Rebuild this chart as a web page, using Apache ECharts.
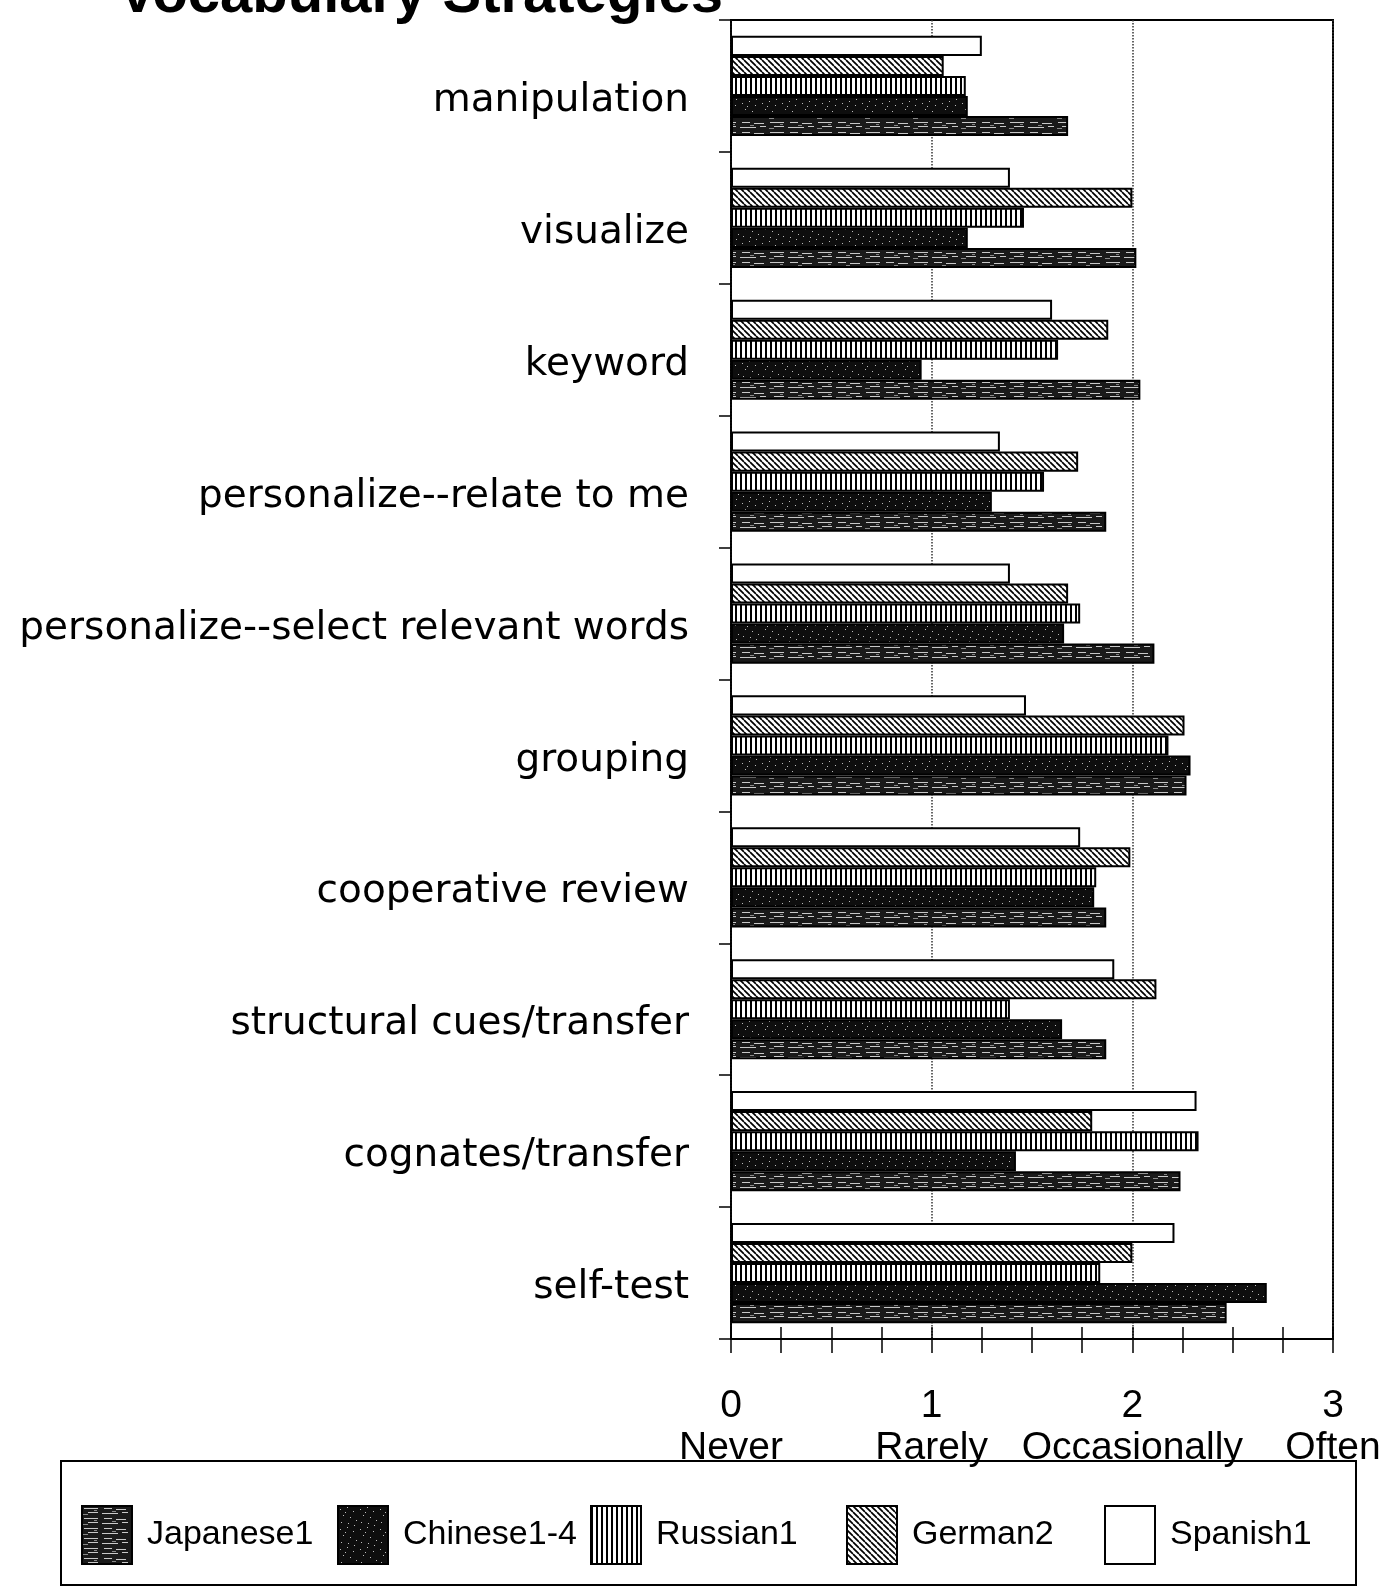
<!DOCTYPE html>
<html>
<head>
<meta charset="utf-8">
<title>Vocabulary Strategies</title>
<script src="https://cdn.jsdelivr.net/npm/echarts@6/dist/echarts.min.js"></script>
<style>
html,body{margin:0;padding:0;background:#fff;}
#container{width:1390px;height:1589px;}
</style>
</head>
<body>
<div id="container"></div>
<script>
    // categories, top to bottom
    var categories = ['manipulation', 'visualize', 'keyword', 'personalize--relate to me',
        'personalize--select relevant words', 'grouping', 'cooperative review',
        'structural cues/transfer', 'cognates/transfer', 'self-test'];
    var japanese1 = [1.68, 2.02, 2.04, 1.87, 2.11, 2.27, 1.87, 1.87, 2.24, 2.47];
    var chinese14 = [1.18, 1.18, 0.95, 1.30, 1.66, 2.29, 1.81, 1.65, 1.42, 2.67];
    var russian1  = [1.17, 1.46, 1.63, 1.56, 1.74, 2.18, 1.82, 1.39, 2.33, 1.84];
    var german2   = [1.06, 2.00, 1.88, 1.73, 1.68, 2.26, 1.99, 2.12, 1.80, 2.00];
    var spanish1  = [1.25, 1.39, 1.60, 1.34, 1.39, 1.47, 1.74, 1.91, 2.32, 2.21];
    var xTickLabels = ['0\nNever', '1\nRarely', '2\nOccasionally', '3\nOften'];
    var legendNames = ['Japanese1', 'Chinese1-4', 'Russian1', 'German2', 'Spanish1'];

    // fill textures like the printed original
    function pattern(kind) {
        var c = document.createElement('canvas');
        var ctx = c.getContext('2d');
        if (kind === 'streak') {
            c.width = 48; c.height = 10;
            ctx.fillStyle = '#1a1a1a'; ctx.fillRect(0, 0, 48, 10);
            ctx.fillStyle = '#c8c8c8';
            ctx.fillRect(2, 2, 14, 1); ctx.fillRect(22, 2, 8, 1); ctx.fillRect(34, 3, 10, 1);
            ctx.fillRect(6, 6, 10, 1); ctx.fillRect(20, 7, 16, 1); ctx.fillRect(40, 6, 6, 1);
            ctx.fillStyle = '#888';
            ctx.fillRect(12, 4, 3, 1); ctx.fillRect(30, 5, 4, 1); ctx.fillRect(1, 8, 5, 1);
        } else if (kind === 'speckle') {
            c.width = 20; c.height = 20;
            ctx.fillStyle = '#0e0e0e'; ctx.fillRect(0, 0, 20, 20);
            ctx.fillStyle = '#bbb';
            [[2,3],[9,1],[15,5],[5,9],[12,11],[18,14],[3,16],[10,17],[7,6],[16,19]].forEach(function (p) {
                ctx.fillRect(p[0], p[1], 1, 1);
            });
        } else if (kind === 'vertical') {
            c.width = 5; c.height = 4;
            ctx.fillStyle = '#fff'; ctx.fillRect(0, 0, 5, 4);
            ctx.fillStyle = '#000'; ctx.fillRect(0, 0, 2, 4);
        } else if (kind === 'diagonal') {
            c.width = 6; c.height = 6;
            ctx.fillStyle = '#fff'; ctx.fillRect(0, 0, 6, 6);
            ctx.strokeStyle = '#000'; ctx.lineWidth = 1.7;
            [-6, 0, 6].forEach(function (o) {
                ctx.beginPath(); ctx.moveTo(o, 0); ctx.lineTo(o + 6, 6); ctx.stroke();
            });
        }
        return {image: c, repeat: 'repeat'};
    }

    function bar(name, data, fill) {
        return {
            name: name,
            type: 'bar',
            data: data,
            barGap: '0%',
            barCategoryGap: '24%',
            itemStyle: {color: fill, borderColor: '#000', borderWidth: 2},
            emphasis: {disabled: true}
        };
    }

    var fills = {
        'Japanese1': pattern('streak'),
        'Chinese1-4': pattern('speckle'),
        'Russian1': pattern('vertical'),
        'German2': pattern('diagonal'),
        'Spanish1': '#ffffff'
    };

    var legendLeft = [76, 332, 585, 841, 1099];

    var option = {
        animation: false,
        backgroundColor: '#fff',
        title: {
            text: 'Vocabulary Strategies',
            left: 113,
            top: -38,
            textStyle: {fontFamily: 'Liberation Sans', fontWeight: 'bold', fontSize: 58, color: '#000'}
        },
        grid: {
            left: 731,
            right: 57,
            top: 20,
            bottom: 250,
            show: true,
            borderColor: '#000',
            borderWidth: 2
        },
        legend: legendNames.map(function (n, i) {
            return {
                data: [n],
                left: legendLeft[i],
                top: 1500,
                icon: 'rect',
                itemWidth: 50,
                itemHeight: 58,
                selectedMode: false,
                itemStyle: {borderColor: '#000', borderWidth: 2},
                textStyle: {fontFamily: 'Liberation Sans', fontSize: 34, color: '#000', padding: [0, 0, 0, 10]}
            };
        }),
        graphic: [{
            type: 'rect',
            shape: {x: 61, y: 1461, width: 1295, height: 124},
            style: {fill: 'none', stroke: '#000', lineWidth: 2},
            z: 10
        }],
        xAxis: [{
            type: 'value',
            min: 0,
            max: 3,
            interval: 1,
            axisLine: {show: true, lineStyle: {color: '#000', width: 2}},
            axisTick: {show: true, length: 14, lineStyle: {color: '#000', width: 1.5}},
            minorTick: {show: true, splitNumber: 4, length: 14, lineStyle: {color: '#000', width: 1.5}},
            splitLine: {show: true, lineStyle: {color: '#333', type: 'dotted', width: 1.5}},
            axisLabel: {
                margin: 46,
                lineHeight: 42,
                fontFamily: 'Liberation Sans',
                fontSize: 39,
                color: '#000',
                align: 'center',
                formatter: function (v) { return xTickLabels[Math.round(v)]; }
            }
        }, {
            type: 'value',
            position: 'bottom',
            min: 0,
            max: 3,
            interval: 1,
            axisLine: {show: false},
            axisTick: {show: true, inside: true, length: 12, lineStyle: {color: '#000', width: 1.5}},
            minorTick: {show: true, splitNumber: 4, length: 12, lineStyle: {color: '#000', width: 1.5}},
            splitLine: {show: false},
            axisLabel: {show: false}
        }],
        yAxis: {
            type: 'category',
            inverse: true,
            data: categories,
            axisLine: {show: true, lineStyle: {color: '#000', width: 1.5}},
            axisTick: {show: true, length: 12, lineStyle: {color: '#000', width: 1.5}},
            axisLabel: {
                margin: 42,
                fontFamily: 'DejaVu Sans',
                fontSize: 39,
                color: '#000',
                verticalAlign: 'top',
                lineHeight: 30
            }
        },
        series: [
            bar('Spanish1', spanish1, fills['Spanish1']),
            bar('German2', german2, fills['German2']),
            bar('Russian1', russian1, fills['Russian1']),
            bar('Chinese1-4', chinese14, fills['Chinese1-4']),
            bar('Japanese1', japanese1, fills['Japanese1'])
        ]
    };

    var myChart = echarts.init(document.getElementById('container'));
    myChart.setOption(option, true);
</script>
</body>
</html>
